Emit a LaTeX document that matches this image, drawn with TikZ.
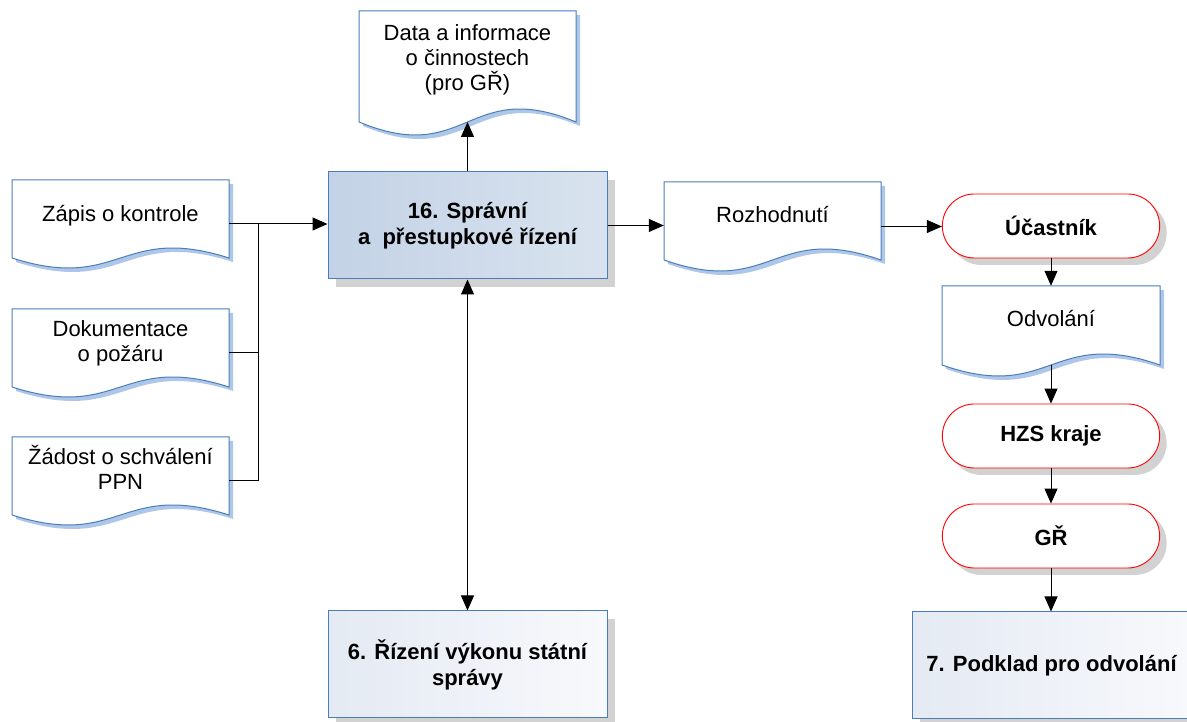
\documentclass[tikz,border=0pt]{standalone}
\usepackage{fontspec}
\setmainfont{Liberation Sans}
\usetikzlibrary{arrows.meta,shapes.misc,shadows,calc}
\definecolor{docblue}{HTML}{4A7EBB}
\definecolor{docshadowc}{HTML}{AEC6E8}
\definecolor{shadowgray}{HTML}{D2D2D2}
\definecolor{midleft}{HTML}{C3D2E6}
\definecolor{midright}{HTML}{D9E3EF}
\definecolor{lightleft}{HTML}{E4EAF3}
\definecolor{lightright}{HTML}{F8F9FC}
\tikzset{
  docborder/.style={draw=docblue, line width=1pt, fill=white},
  doctext/.style={align=center, font=\fontsize{22}{25}\selectfont, inner sep=0pt},
  procbox/.style={rectangle, draw=docblue, line width=1pt, minimum width=279pt, minimum height=107pt,
     align=center, font=\fontsize{22}{26}\selectfont\bfseries,
     drop shadow={shadow xshift=8pt, shadow yshift=-8pt, fill=shadowgray, opacity=1}},
  darkbox/.style={procbox, left color=midleft, right color=midright},
  lightbox/.style={procbox, left color=lightleft, right color=lightright},
  stadium/.style={rounded rectangle, draw=red, line width=0.9pt, fill=white, minimum width=224pt, minimum height=64pt,
     font=\fontsize{22}{26}\selectfont\bfseries,
     drop shadow={shadow xshift=7pt, shadow yshift=-7pt, fill=shadowgray, opacity=1}},
  conn/.style={draw=black, line width=1pt},
  arr/.style={conn, -{Triangle[length=15pt,width=13pt]}},
  darr/.style={conn, {Triangle[length=15pt,width=13pt]}-{Triangle[length=15pt,width=13pt]}}
}
% #1 name, #2 L, #3 T, #4 R, #5 S (side bottom), #6 amplitude, #7 text offset, #8 text  (pixel coords, y down)
\newcommand{\docnode}[8]{%
  \pgfmathsetmacro\dL{#2}%
  \pgfmathsetmacro\dR{#4}%
  \pgfmathsetmacro\dT{722-#3}%
  \pgfmathsetmacro\dS{722-#5}%
  \pgfmathsetmacro\dM{(#2+#4)/2}%
  \pgfmathsetmacro\dA{\dS+3.46*#6}%
  \pgfmathsetmacro\dB{\dS-3.46*#6}%
  \pgfmathsetmacro\dC{(\dT+\dS-#6)/2}%
  \pgfmathsetmacro\dW{#4-#2}%
  \pgfmathsetmacro\dH{\dT-\dS+#6}%
  \fill[docshadowc] ({\dL+4},{\dT-4}) -- ({\dR+4},{\dT-4}) -- ({\dR+4},{\dS-4})
     .. controls ({\dM+4},{\dA-4}) and ({\dM+4},{\dB-4}) .. ({\dL+4},{\dS-4}) -- cycle;
  \draw[docborder] (\dL,\dT) -- (\dR,\dT) -- (\dR,\dS)
     .. controls (\dM,\dA) and (\dM,\dB) .. (\dL,\dS) -- cycle;
  \node[inner sep=0pt, minimum width=\dW pt, minimum height=\dH pt] (#1) at (\dM,\dC) {};
  \coordinate (#1-w) at (\dM,\dS);
  \node[doctext] at ([yshift=#7pt]#1.center) {#8};
}
\begin{document}
\begin{tikzpicture}[x=1pt,y=1pt]
\useasboundingbox (0,0) rectangle (1187,722);

% documents
\docnode{data}{359}{11}{576}{122}{13}{13}{Data a informace\\o činnostech\\(pro GŘ)}
\docnode{zapis}{12}{180}{229}{258}{10}{8}{Zápis o kontrole}
\docnode{dokum}{12}{309}{229}{387}{10}{10}{Dokumentace\\o požáru}
\docnode{zadost}{12}{437}{229}{515}{10}{14}{Žádost o schválení\\PPN}
\docnode{rozh}{664}{182}{881}{260}{11}{12}{Rozhodnutí}
\docnode{odv}{942}{286}{1160}{365}{11}{12}{Odvolání}

% process boxes
\node[darkbox] (central) at (467.5,496.5) {16. Správní\\a\ \ přestupkové řízení};
\node[lightbox] (six) at (467.5,57.5) {6. Řízení výkonu státní\\správy};
\node[lightbox] (seven) at (1051.5,56.5) {7. Podklad pro odvolání};

% terminators
\node[stadium] (ucast) at (1051,496) {Účastník};
\node[stadium] (hzs) at (1051,286) {HZS kraje};
\node[stadium] (gr) at (1051,186) {GŘ};

% connectors
\coordinate (jx) at (258,497);
\draw[conn] (dokum.east) -- (dokum.east -| jx);
\draw[conn] (zadost.east) -- (zadost.east -| jx) -- (jx |- zapis.east);
\draw[arr] (zapis.east) -- (central.west |- zapis.east);
\draw[arr] (central.north) -- (data-w);
\draw[darr] (central.south) -- (six.north);
\draw[arr] (central.east) -- (central.east -| rozh.west);
\draw[arr] (rozh.east) -- (rozh.east -| ucast.west);
\draw[arr] (ucast.south) -- (ucast.south |- odv.north);
\draw[arr] (odv-w) -- (odv-w |- hzs.north);
\draw[arr] (hzs.south) -- (gr.north);
\draw[arr] (gr.south) -- (gr.south |- seven.north);
\end{tikzpicture}
\end{document}
